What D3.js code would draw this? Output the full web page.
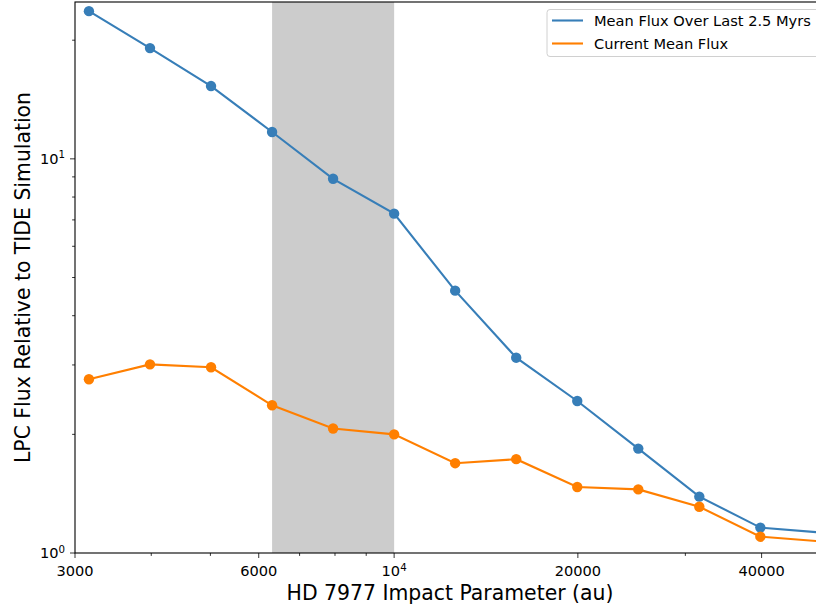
<!DOCTYPE html>
<html>
<head>
<meta charset="utf-8">
<script src="https://cdn.jsdelivr.net/npm/d3@7"></script>
<style>
  body { margin: 0; background: #fff; }
  svg { display: block; font-family: "DejaVu Sans", sans-serif; }
</style>
</head>
<body>
<svg width="816" height="609"></svg>
<script>
// impact parameters (au)
const impact = [3162, 3981, 5012, 6310, 7943, 10000, 12589, 15849, 19953, 25119, 31623, 39811, 50119];
// flux relative to TIDE simulation
const meanFlux = [23.7, 19.1, 15.3, 11.7, 8.9, 7.26, 4.63, 3.13, 2.43, 1.84, 1.39, 1.16, 1.127];
const currentFlux = [2.76, 3.01, 2.96, 2.37, 2.07, 2.0, 1.69, 1.73, 1.47, 1.45, 1.31, 1.10, 1.07];
// shaded band
const band = [6310, 10000];
const seriesNames = ["Mean Flux Over Last 2.5 Myrs", "Current Mean Flux"];
const xTickLabels = [[3000, "3000"], [6000, "6000"], [10000, "10", "4"], [20000, "20000"], [40000, "40000"]];
const xMinorTicks = [4000, 5000, 7000, 8000, 9000, 30000];
const yTickLabels = [[1, "10", "0"], [10, "10", "1"]];
const yMinorTicks = [2, 3, 4, 5, 6, 7, 8, 9, 20];

// chart dimensions
const plotLeft = 75, plotRight = 826, plotTop = 2, plotBottom = 553;
const colors = ["#377eb8", "#ff7f00"];
const tickFont = 14.6, labelFont = 20.4;

const x = d3.scaleLog().domain([3000, 51000]).range([plotLeft, plotRight]);
const y = d3.scaleLog().domain([1, 25]).range([plotBottom, plotTop]);

const svg = d3.select("svg");

// shaded region
svg.append("rect")
  .attr("x", x(band[0]))
  .attr("y", plotTop)
  .attr("width", x(band[1]) - x(band[0]))
  .attr("height", plotBottom - plotTop)
  .attr("fill", "#cccccc");

// series lines and markers
const series = [meanFlux, currentFlux];
const line = d3.line()
  .x((d, i) => x(impact[i]))
  .y(d => y(d));

series.forEach((values, s) => {
  svg.append("path")
    .datum(values)
    .attr("d", line)
    .attr("fill", "none")
    .attr("stroke", colors[s])
    .attr("stroke-width", 2.1);
  svg.selectAll(".dot" + s)
    .data(values)
    .enter()
    .append("circle")
    .attr("class", "dot" + s)
    .attr("cx", (d, i) => x(impact[i]))
    .attr("cy", d => y(d))
    .attr("r", 5.2)
    .attr("fill", colors[s]);
});

// frame
svg.append("rect")
  .attr("x", plotLeft)
  .attr("y", plotTop)
  .attr("width", plotRight - plotLeft)
  .attr("height", plotBottom - plotTop)
  .attr("fill", "none")
  .attr("stroke", "#000")
  .attr("stroke-width", 1.1);

// x ticks
const xg = svg.append("g");
xg.selectAll(".xmin")
  .data(xMinorTicks)
  .enter()
  .append("line")
  .attr("x1", d => x(d)).attr("x2", d => x(d))
  .attr("y1", plotBottom).attr("y2", plotBottom + 2.9)
  .attr("stroke", "#000").attr("stroke-width", 0.8);
xTickLabels.forEach(t => {
  xg.append("line")
    .attr("x1", x(t[0])).attr("x2", x(t[0]))
    .attr("y1", plotBottom).attr("y2", plotBottom + 5)
    .attr("stroke", "#000").attr("stroke-width", 0.8);
  const txt = xg.append("text")
    .attr("x", x(t[0]))
    .attr("y", plotBottom + 23)
    .attr("text-anchor", "middle")
    .attr("font-size", tickFont)
    .text(t[1]);
  if (t[2]) {
    txt.append("tspan")
      .attr("dy", -5.5)
      .attr("font-size", tickFont * 0.7)
      .text(t[2]);
  }
});

// y ticks
const yg = svg.append("g");
yg.selectAll(".ymin")
  .data(yMinorTicks)
  .enter()
  .append("line")
  .attr("x1", plotLeft).attr("x2", plotLeft - 2.9)
  .attr("y1", d => y(d)).attr("y2", d => y(d))
  .attr("stroke", "#000").attr("stroke-width", 0.8);
yTickLabels.forEach(t => {
  yg.append("line")
    .attr("x1", plotLeft).attr("x2", plotLeft - 5)
    .attr("y1", y(t[0])).attr("y2", y(t[0]))
    .attr("stroke", "#000").attr("stroke-width", 0.8);
  const txt = yg.append("text")
    .attr("x", plotLeft - 10)
    .attr("y", y(t[0]) + 5)
    .attr("text-anchor", "end")
    .attr("font-size", tickFont)
    .text(t[1]);
  txt.append("tspan")
    .attr("dy", -5.5)
    .attr("font-size", tickFont * 0.7)
    .text(t[2]);
});

// axis labels
svg.append("text")
  .attr("x", 450)
  .attr("y", 600)
  .attr("text-anchor", "middle")
  .attr("font-size", labelFont)
  .text("HD 7977 Impact Parameter (au)");
svg.append("text")
  .attr("transform", "translate(30," + ((plotTop + plotBottom) / 2) + ") rotate(-90)")
  .attr("text-anchor", "middle")
  .attr("font-size", labelFont)
  .text("LPC Flux Relative to TIDE Simulation");

// legend
const legend = svg.append("g");
legend.append("rect")
  .attr("x", 547).attr("y", 9.5)
  .attr("width", 275).attr("height", 47)
  .attr("rx", 3)
  .attr("fill", "#fff").attr("fill-opacity", 0.8)
  .attr("stroke", "#d0d0d0");
seriesNames.forEach((name, i) => {
  const ly = 20.5 + i * 23;
  legend.append("line")
    .attr("x1", 552).attr("x2", 583)
    .attr("y1", ly).attr("y2", ly)
    .attr("stroke", colors[i]).attr("stroke-width", 2.1);
  legend.append("text")
    .attr("x", 594).attr("y", ly + 5.3)
    .attr("font-size", tickFont)
    .text(name);
});
</script>
</body>
</html>
